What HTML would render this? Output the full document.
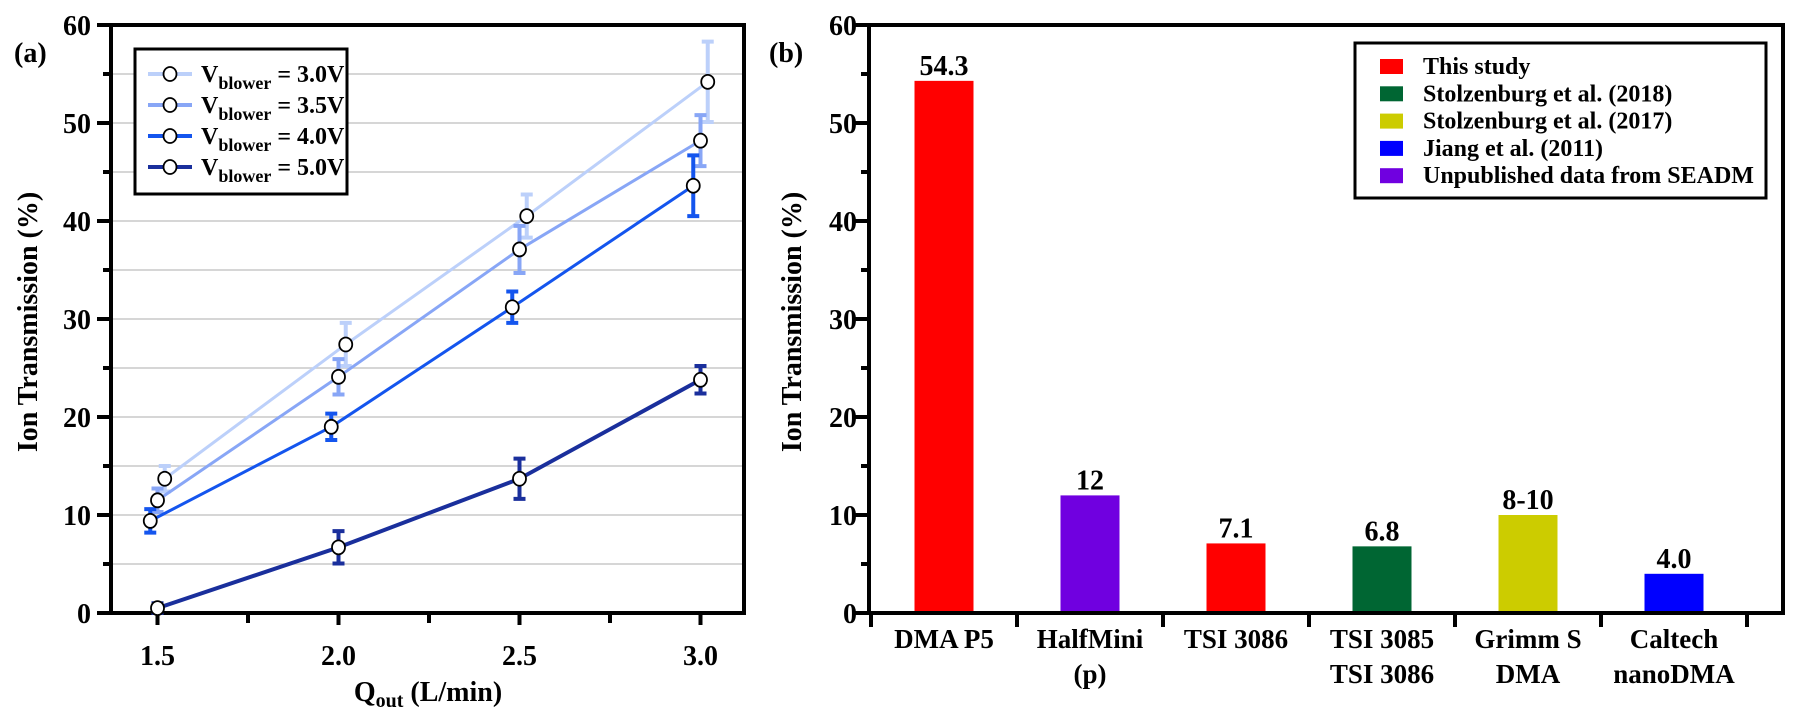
<!DOCTYPE html>
<html><head><meta charset="utf-8"><style>
html,body{margin:0;padding:0;background:#fff;}
svg{display:block;}
svg text{font-family:"Liberation Serif","DejaVu Serif",serif;font-weight:bold;}
</style></head><body>
<svg id="fig" width="1801" height="725" viewBox="0 0 1801 725" xmlns="http://www.w3.org/2000/svg">
<g id="pa"></g>
<g id="pb"></g>
</svg>
<script>
// Panel (a) data
const qValues = [1.5, 2.0, 2.5, 3.0];
const seriesNames = ["3.0V", "3.5V", "4.0V", "5.0V"];
const xOffsets = [0.02, 0, -0.02, 0];
const s30 = [13.7, 27.4, 40.5, 54.2];
const s35 = [11.5, 24.1, 37.1, 48.2];
const s40 = [9.4, 19.0, 31.2, 43.6];
const s50 = [0.5, 6.7, 13.7, 23.8];
const e30 = [1.3, 2.2, 2.2, 4.1];
const e35 = [1.2, 1.8, 2.4, 2.6];
const e40 = [1.2, 1.35, 1.6, 3.1];
const e50 = [0.5, 1.65, 2.05, 1.4];
const xTickLabels = ["1.5", "2.0", "2.5", "3.0"];
const yTickLabels = ["0", "10", "20", "30", "40", "50", "60"];
// Panel (b) data
const devices = [["DMA P5"], ["HalfMini", "(p)"], ["TSI 3086"], ["TSI 3085", "TSI 3086"], ["Grimm S", "DMA"], ["Caltech", "nanoDMA"]];
const barValues = [54.3, 12, 7.1, 6.8, 10, 4.0];
const barLabels = ["54.3", "12", "7.1", "6.8", "8-10", "4.0"];
const barSource = [0, 4, 0, 1, 2, 3];
const sources = ["This study", "Stolzenburg et al. (2018)", "Stolzenburg et al. (2017)", "Jiang et al. (2011)", "Unpublished data from SEADM"];

const NS = "http://www.w3.org/2000/svg";
function mk(parent, tag, attrs, text) {
  const el = document.createElementNS(NS, tag);
  for (const k in attrs) el.setAttribute(k, attrs[k]);
  if (text !== undefined) el.textContent = text;
  parent.appendChild(el);
  return el;
}
const srcColors = ["#ff0000", "#006633", "#cccc00", "#0000ff", "#7000e0"];
const serColors = ["#bcd0fa", "#88a6f6", "#1455ee", "#1a2f9c"];
const serWidths = [3, 3, 3, 4];

// ---------- Panel A ----------
const A = document.getElementById("pa");
const aL = 111, aR = 744, aT = 25, aB = 613;
const ax = q => 157.5 + (q - 1.5) / 0.5 * 181;
const ay = v => aB - (v / 60) * (aB - aT);

for (let v = 5; v < 60; v += 5) {
  const g = mk(A, "line", {x1: aL, x2: aR, y1: ay(v), y2: ay(v), stroke: "#c8c8c8", "stroke-width": 1.5});
  
  
}
yTickLabels.forEach((t, i) => {
  const v = i * 10;
  mk(A, "line", {x1: aL - 14, x2: aL, y1: ay(v), y2: ay(v), stroke: "#000", "stroke-width": 4});
  if (i < 6) mk(A, "line", {x1: aL - 8, x2: aL, y1: ay(v + 5), y2: ay(v + 5), stroke: "#000", "stroke-width": 4});
  const tx = mk(A, "text", {x: aL - 20, y: ay(v) + 10, "text-anchor": "end", "font-size": 28}, t);
  
  
});
xTickLabels.forEach((t, i) => {
  const q = qValues[i];
  mk(A, "line", {x1: ax(q), x2: ax(q), y1: aB, y2: aB + 12, stroke: "#000", "stroke-width": 4});
  if (i < xTickLabels.length - 1) mk(A, "line", {x1: ax(q + 0.25), x2: ax(q + 0.25), y1: aB, y2: aB + 10, stroke: "#000", "stroke-width": 4});
  const tx = mk(A, "text", {x: ax(q), y: 665, "text-anchor": "middle", "font-size": 28}, t);
  
  
});
mk(A, "rect", {x: aL, y: aT, width: aR - aL, height: aB - aT, fill: "none", stroke: "#000", "stroke-width": 4});

const allS = [s30, s35, s40, s50], allE = [e30, e35, e40, e50];
allS.forEach((s, si) => {
  const col = serColors[si];
  const pts = s.map((v, i) => ax(qValues[i] + xOffsets[si]) + "," + ay(v)).join(" ");
  const pl = mk(A, "polyline", {points: pts, fill: "none", stroke: col, "stroke-width": serWidths[si]});
  
  
  s.forEach((v, i) => {
    const x = ax(qValues[i] + xOffsets[si]);
    const e = allE[si][i];
    const eb = mk(A, "path", {d: `M${x},${ay(v + e)}V${ay(v - e)}M${x - 6},${ay(v + e)}H${x + 6}M${x - 6},${ay(v - e)}H${x + 6}`, stroke: col, "stroke-width": 4, fill: "none"});
    
    
  });
});
allS.forEach((s, si) => {
  s.forEach((v, i) => {
    const c = mk(A, "ellipse", {cx: ax(qValues[i] + xOffsets[si]), cy: ay(v), rx: 6.5, ry: 7, fill: "#fff", stroke: "#000", "stroke-width": 1.8});
    
    
  });
});
// legend A
const lgA = mk(A, "g", {});


mk(lgA, "rect", {x: 135, y: 49, width: 212, height: 145, fill: "#fff", stroke: "#000", "stroke-width": 3});
seriesNames.forEach((n, i) => {
  const y = 74 + i * 31;
  const ent = mk(lgA, "g", {});
  
  
  mk(ent, "line", {x1: 148, x2: 192, y1: y, y2: y, stroke: serColors[i], "stroke-width": 4});
  mk(ent, "ellipse", {cx: 170, cy: y, rx: 6.5, ry: 7, fill: "#fff", stroke: "#000", "stroke-width": 1.8});
  const t = mk(ent, "text", {x: 201, y: y + 8, "font-size": 24});
  mk(t, "tspan", {}, "V");
  mk(t, "tspan", {"font-size": 18, dy: 7}, "blower");
  mk(t, "tspan", {dy: -7}, " = " + n);
});
let t;
t = mk(A, "text", {x: 14, y: 62, "font-size": 28}, "(a)");
 
t = mk(A, "text", {x: 0, y: 0, "font-size": 28, "text-anchor": "middle", transform: "translate(37,322) rotate(-90)"}, "Ion Transmission (%)");
 
t = mk(A, "text", {x: 428, y: 701, "font-size": 28, "text-anchor": "middle"});
mk(t, "tspan", {}, "Q");
mk(t, "tspan", {"font-size": 20, dy: 6}, "out");
mk(t, "tspan", {dy: -6}, " (L/min)");
 

// ---------- Panel B ----------
const B = document.getElementById("pb");
const bL = 869, bR = 1783, bT = 25, bB = 613, cw = 146;
const by = v => bB - (v / 60) * (bB - bT);
const bx = i => bL + 2 + cw * (i + 0.5);
yTickLabels.forEach((tl, i) => {
  const v = i * 10;
  mk(B, "line", {x1: bL - 14, x2: bL, y1: by(v), y2: by(v), stroke: "#000", "stroke-width": 4});
  if (i < 6) mk(B, "line", {x1: bL - 8, x2: bL, y1: by(v + 5), y2: by(v + 5), stroke: "#000", "stroke-width": 4});
  const tx = mk(B, "text", {x: bL - 12, y: by(v) + 10, "text-anchor": "end", "font-size": 28}, tl);
  
  
});
for (let i = 0; i <= devices.length; i++) {
  mk(B, "line", {x1: bL + 2 + cw * i, x2: bL + 2 + cw * i, y1: bB, y2: bB + 14, stroke: "#000", "stroke-width": 4});
}
barValues.forEach((v, i) => {
  const r = mk(B, "rect", {x: bx(i) - 29.5, y: by(v), width: 59, height: bB - by(v), fill: srcColors[barSource[i]]});
  
  
  const lb = mk(B, "text", {x: bx(i), y: by(v) - 6, "text-anchor": "middle", "font-size": 28}, barLabels[i]);
  
  
  devices[i].forEach((ln, j) => {
    const cl = mk(B, "text", {x: bx(i), y: 648 + j * 35, "text-anchor": "middle", "font-size": 27}, ln);
    
    
  });
});
mk(B, "rect", {x: bL, y: bT, width: bR - bL, height: bB - bT, fill: "none", stroke: "#000", "stroke-width": 4});
const lgB = mk(B, "g", {});


mk(lgB, "rect", {x: 1355, y: 43, width: 411, height: 155, fill: "#fff", stroke: "#000", "stroke-width": 3});
sources.forEach((s, i) => {
  const y = 66 + i * 27.3;
  const ent = mk(lgB, "g", {});
  
  
  mk(ent, "rect", {x: 1380, y: y - 7, width: 23, height: 15, fill: srcColors[i]});
  mk(ent, "text", {x: 1423, y: y + 8, "font-size": 24}, s);
});
t = mk(B, "text", {x: 769, y: 62, "font-size": 28}, "(b)");
 
t = mk(B, "text", {x: 0, y: 0, "font-size": 28, "text-anchor": "middle", transform: "translate(801,322) rotate(-90)"}, "Ion Transmission (%)");
 
</script>
</body></html>
